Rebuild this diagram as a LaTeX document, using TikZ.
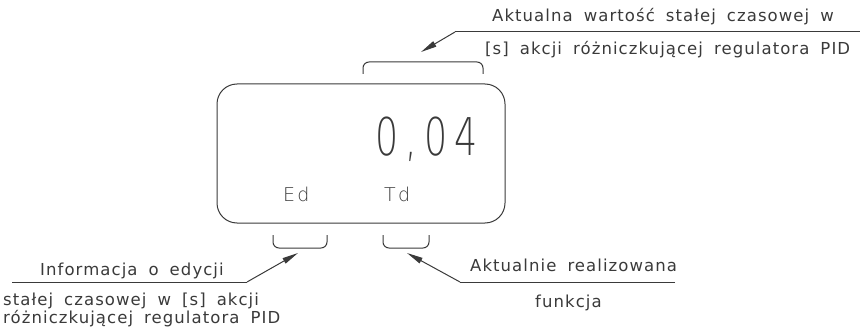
\documentclass[tikz,border=0pt]{standalone}
\usepackage{fontspec}
\usetikzlibrary{arrows.meta}
\newfontfamily\cadfont[LetterSpace=6.5,WordSpace=1.75]{DejaVu Sans}
\IfFontExistsTF{DejaVu Sans ExtraLight}
  {\newfontfamily\bigfont[FakeStretch=0.7,LetterSpace=14]{DejaVu Sans ExtraLight}
   \newfontfamily\thinfont[LetterSpace=12]{DejaVu Sans ExtraLight}}
  {\newfontfamily\bigfont[FakeStretch=0.62,LetterSpace=18]{DejaVu Sans}
   \newfontfamily\thinfont[LetterSpace=12]{DejaVu Sans}}
\definecolor{ink}{HTML}{3A3A3A}
\begin{document}
\begin{tikzpicture}[x=1pt,y=-1pt,
  lbl/.style={anchor=base west,inner sep=0pt,font=\cadfont\fontsize{16.5}{16.5}\selectfont,text=ink},
  disptext/.style={lbl,font=\thinfont\fontsize{19}{19}\selectfont},
  ln/.style={draw=ink,line width=1pt},
  pointer/.style={ln,-{Triangle[length=16pt,width=6pt]}},
  brk/.style={ln,rounded corners=6pt}]
\useasboundingbox (0,0) rectangle (860,329);
% display
\node[ln,rounded corners=20pt,minimum width=288pt,minimum height=139pt,inner sep=0pt] (disp) at (361,153.5) {};
\node[anchor=base west,inner sep=0pt,font=\bigfont\fontsize{52}{52}\selectfont,text=ink] (val) at (375,155) {0,04};
\node[disptext] (ed) at (283,201) {Ed};
\node[disptext] (td) at (384,201) {Td};
% brackets
\coordinate (tb1) at (363,74); \coordinate (tb2) at (483,74);
\draw[brk] (tb1) -- (363,62) -- (483,62) -- (tb2);
\coordinate (lb1) at (273,235); \coordinate (lb2) at (327,235);
\draw[brk] (lb1) -- (273,248) -- (327,248) -- (lb2);
\coordinate (rb1) at (383,235); \coordinate (rb2) at (429,235);
\draw[brk] (rb1) -- (383,248) -- (429,248) -- (rb2);
% top callout
\node[lbl] (t1) at (492,22) {Aktualna wartość stałej czasowej w};
\node[lbl] (t2) at (485,55) {[s] akcji różniczkującej regulatora PID};
\coordinate (tk) at (455,32); \coordinate (te) at (860,32); \coordinate (ta) at (421,52);
\draw[ln] (te) -- (tk);
\draw[pointer] (tk) -- (ta);
% left callout
\node[lbl] (l1) at (40,275) {Informacja o edycji};
\node[lbl] (l2) at (3,305) {stałej czasowej w [s] akcji};
\node[lbl] (l3) at (3,323) {różniczkującej regulatora PID};
\coordinate (lk) at (247,282); \coordinate (le) at (12,282); \coordinate (la) at (298,253);
\draw[ln] (le) -- (lk);
\draw[pointer] (lk) -- (la);
% right callout
\node[lbl] (r1) at (470,271) {Aktualnie realizowana};
\node[lbl] (r2) at (535,307) {funkcja};
\coordinate (rk) at (460,282); \coordinate (re) at (675,282); \coordinate (ra) at (407,253);
\draw[ln] (re) -- (rk);
\draw[pointer] (rk) -- (ra);
\end{tikzpicture}
\end{document}
